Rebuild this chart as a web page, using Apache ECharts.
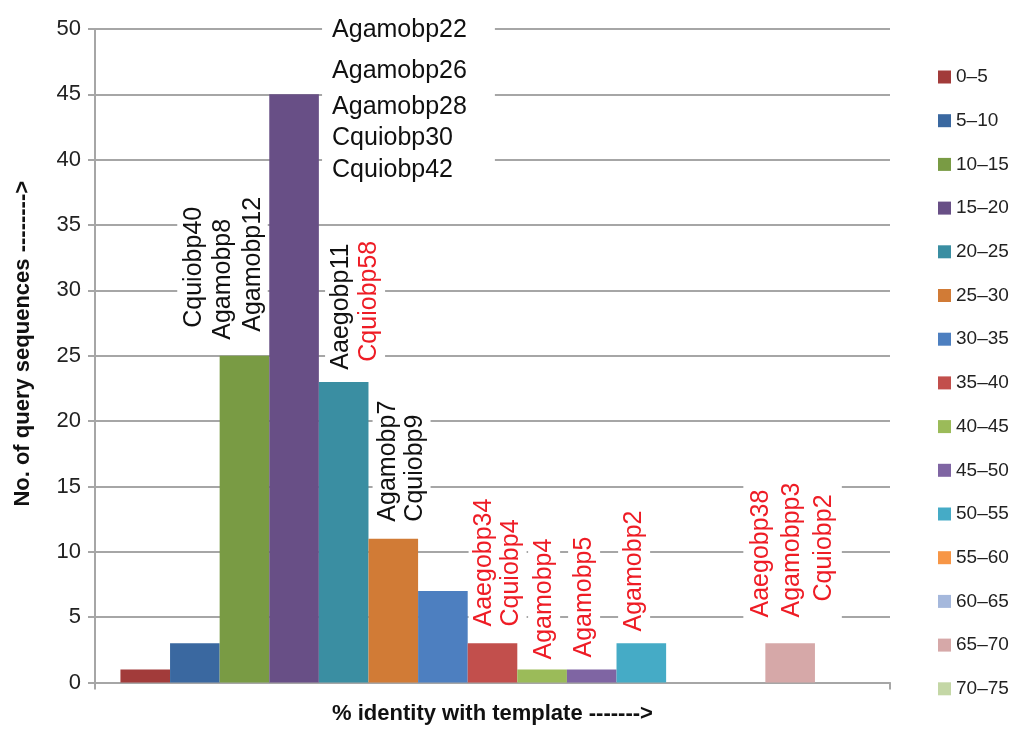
<!DOCTYPE html>
<html>
<head>
<meta charset="utf-8">
<script src="https://cdn.jsdelivr.net/npm/echarts@6/dist/echarts.min.js"></script>
<style>
  html, body { margin: 0; padding: 0; background: #fff; }
  #chart { width: 1014px; height: 734px; }
</style>
</head>
<body>
<div id="chart"></div>
<script>
// Identity bins (% identity with template)
const ranges = ['0–5', '5–10', '10–15', '15–20', '20–25', '25–30', '30–35', '35–40',
  '40–45', '45–50', '50–55', '55–60', '60–65', '65–70', '70–75'];

// Number of query sequences in each bin
const counts = [1, 3, 25, 45, 23, 11, 7, 3, 1, 1, 3, 0, 0, 3, 0];

// Odorant binding proteins named above each bin
const binGenes = [
  [], [],
  ['Cquiobp40', 'Agamobp8', 'Agamobp12'],
  ['Agamobp22', 'Agamobp26', 'Agamobp28', 'Cquiobp30', 'Cquiobp42'],
  ['Aaegobp11', 'Cquiobp58'],
  ['Agamobp7', 'Cquiobp9'],
  [],
  ['Aaegobp34', 'Cquiobp4'],
  ['Agamobp4'],
  ['Agamobp5'],
  ['Agamobp2'],
  [], [],
  ['Aaegobp38', 'Agamobpp3', 'Cquiobp2'],
  []
];

// Proteins highlighted in red
const redGenes = ['Cquiobp58', 'Aaegobp34', 'Cquiobp4', 'Agamobp4', 'Agamobp5',
  'Agamobp2', 'Aaegobp38', 'Agamobpp3', 'Cquiobp2'];

const colors = ['#a23b3a', '#3a68a0', '#799b44', '#684f86', '#3a8ea2', '#d17b36',
  '#4d7fc0', '#c24f4c', '#9bbb59', '#7f65a3', '#45abc6', '#f79646', '#a5b8dc',
  '#d6a8a8', '#c4d7a6'];

const FONT = 'Liberation Sans, Arial, Helvetica, sans-serif';
const RED = '#ee1c25';
const BLACK = '#111';

// Label placement per bin: offset from the bar's top-left corner,
// line height, per-line nudges along the text direction, box padding.
const labelLayout = {
  2: { pos: [-42.4, -12], lh: 29.5, shift: [12, 0, 8], rotate: 90, pad: [2, 4, 0, 4] },
  3: { pos: [52.8, -87.4], lhs: [46, 36, 36, 26, 38], rotate: 0, pad: [0, 28, 0, 10] },
  4: { pos: [6.2, -8.2], lh: 28, shift: [0, 8], rotate: 90 },
  5: { pos: [4.1, -13.1], lh: 27, shift: [0, 0], rotate: 90 },
  7: { pos: [0.9, -12.8], lh: 27, shift: [0, 0], rotate: 90 },
  8: { pos: [10.8, -5.9], lh: 28, shift: [0], rotate: 90 },
  9: { pos: [1.2, -7.9], lh: 28, shift: [0], rotate: 90 },
  10: { pos: [1.6, -7.8], lh: 28, shift: [0], rotate: 90 },
  13: { pos: [-22, -21.8], lh: 31.5, shift: [0, 0, 16], rotate: 90 }
};

function buildLabel(i) {
  const genes = binGenes[i];
  const lay = labelLayout[i];
  if (!genes.length || !lay) return { show: false };
  const rich = {};
  genes.forEach((g, j) => {
    const lh = lay.lhs ? lay.lhs[j] : lay.lh;
    const sh = lay.shift ? (lay.shift[j] || 0) : 0;
    rich['l' + j] = {
      color: redGenes.includes(g) ? RED : BLACK,
      fontSize: 25,
      fontFamily: FONT,
      lineHeight: lh,
      padding: [0, 0, 0, sh]
    };
  });
  return {
    show: true,
    position: lay.pos,
    rotate: lay.rotate,
    align: 'left',
    verticalAlign: 'top',
    fontSize: 25,
    fontFamily: FONT,
    backgroundColor: '#fff',
    padding: lay.pad || [2, 4, 2, 4],
    formatter: () => genes.map((g, j) => '{l' + j + '|' + g + '}').join('\n'),
    rich: rich
  };
}

const series = ranges.map((r, i) => ({
  name: r,
  type: 'bar',
  data: [counts[i]],
  barGap: '0%',
  barCategoryGap: '6.4%',
  itemStyle: { color: colors[i] },
  label: buildLabel(i)
}));

const chart = echarts.init(document.getElementById('chart'), null, { renderer: 'canvas' });
chart.setOption({
  animation: false,
  color: colors,
  grid: { left: 95, right: 124, top: 29, bottom: 51.5 },
  legend: {
    orient: 'vertical',
    left: 933,
    top: 62,
    itemWidth: 13,
    itemHeight: 13,
    itemGap: 23.7,
    icon: 'rect',
    selectedMode: false,
    textStyle: { fontSize: 19, fontFamily: FONT, color: '#222', lineHeight: 20 },
    data: ranges
  },
  xAxis: {
    type: 'category',
    data: [''],
    name: '% identity with template ------->',
    nameLocation: 'middle',
    nameGap: 20,
    nameTextStyle: { fontSize: 22, fontWeight: 'bold', fontFamily: FONT, color: '#111' },
    axisLine: { lineStyle: { color: '#a6a6a6', width: 2 } },
    axisTick: { show: true, length: 7, lineStyle: { color: '#a6a6a6', width: 2 } },
    axisLabel: { show: false },
    splitLine: { show: false }
  },
  yAxis: {
    type: 'value',
    min: 0,
    max: 50,
    interval: 5,
    name: 'No. of query sequences -------->',
    nameLocation: 'middle',
    nameGap: 61,
    nameTextStyle: { fontSize: 22, fontWeight: 'bold', fontFamily: FONT, color: '#111', padding: [0, 0, 0, 24] },
    axisLine: { show: true, lineStyle: { color: '#a6a6a6', width: 2 } },
    axisTick: { show: true, length: 7, lineStyle: { color: '#a6a6a6', width: 2 } },
    axisLabel: { fontSize: 22, fontFamily: FONT, color: '#222', margin: 14 },
    splitLine: { lineStyle: { color: '#a6a6a6', width: 2 } }
  },
  series: series
});
</script>
</body>
</html>
